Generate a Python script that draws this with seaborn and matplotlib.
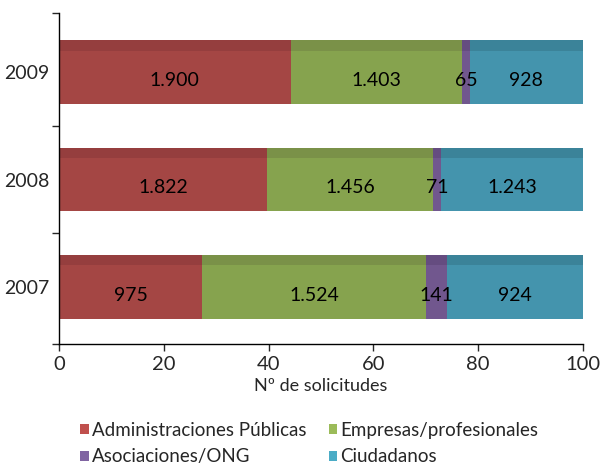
import numpy as np
import pandas as pd
import matplotlib
matplotlib.use('Agg')
import matplotlib.pyplot as plt
from matplotlib.patches import Rectangle, Patch
import seaborn as sns

# Data
years = ['2009', '2008', '2007']
series = ['Administraciones Públicas', 'Empresas/profesionales', 'Asociaciones/ONG', 'Ciudadanos']
admin = [1900, 1822, 975]
empresas = [1403, 1456, 1524]
asociaciones = [65, 71, 141]
ciudadanos = [928, 1243, 924]

bar_colors = ['#A44644', '#86A34E', '#71578E', '#4494AD']
top_colors = ['#953E3E', '#7A9148', '#654C80', '#3B8399']
legend_colors = ['#C0504D', '#9BBB59', '#8064A2', '#4BACC6']

counts = pd.DataFrame({s: v for s, v in zip(series, [admin, empresas, asociaciones, ciudadanos])},
                      index=years)
shares = counts.div(counts.sum(axis=1), axis=0) * 100
cum = shares.cumsum(axis=1)

sns.set_style('white')
plt.rcParams['font.family'] = ['Lato', 'DejaVu Sans']

fig = plt.figure(figsize=(6, 4.68), dpi=100)
ax = fig.add_axes([59 / 600, 1 - 344 / 468, 524 / 600, 331 / 468])

bar_h = 0.59
strip = 0.16
# draw cumulative bars from the right-most series down so each one covers the next
for i in range(len(series) - 1, -1, -1):
    s = series[i]
    df = pd.DataFrame({'year': years, 'value': cum[s].values})
    n_before = len(ax.patches)
    sns.barplot(data=df, x='value', y='year', order=years, orient='h',
                color=bar_colors[i], saturation=1, width=bar_h, ax=ax, zorder=2)
    new = ax.patches[n_before:]
    for p in new:
        p.set_edgecolor('none')
        ax.add_patch(Rectangle((p.get_x(), p.get_y()), p.get_width(), p.get_height() * strip,
                               facecolor=top_colors[i], edgecolor='none', zorder=2))

# value labels centred on each segment
left = cum.shift(axis=1, fill_value=0)
for j, y in enumerate(years):
    for s in series:
        xc = left.loc[y, s] + shares.loc[y, s] / 2
        txt = f'{counts.loc[y, s]:,}'.replace(',', '.')
        ax.text(xc, j + bar_h * strip / 2 + 0.03, txt, ha='center', va='center',
                fontsize=14, color='black', zorder=5)

ax.set_xlim(0, 100)
ax.set_ylim(2.53, -0.55)
ax.set_xticks([0, 20, 40, 60, 80, 100])
ax.set_xlabel('Nº de solicitudes', fontsize=13, labelpad=3)
ax.set_ylabel('')
ax.tick_params(axis='x', labelsize=14.5, length=5, width=1, direction='out', pad=4, bottom=True)
ax.tick_params(axis='y', which='major', labelsize=14, length=0, pad=7)
ax.set_yticks([-0.55, 0.5, 1.5, 2.53], minor=True)
ax.tick_params(axis='y', which='minor', length=5, width=1, direction='out', left=True)
for side in ['top', 'right']:
    ax.spines[side].set_visible(False)
for side in ['left', 'bottom']:
    ax.spines[side].set_color('black')
    ax.spines[side].set_linewidth(1)

# legend rows: Admin | Empresas, then Asociaciones | Ciudadanos (matplotlib fills by column)
leg_order = [0, 2, 1, 3]
handles = [Patch(facecolor=legend_colors[k], edgecolor='none') for k in leg_order]
labels = [series[k] for k in leg_order]
fig.legend(handles, labels, loc='center', bbox_to_anchor=(0.515, 0.052), ncol=2,
           frameon=False, fontsize=13.5, handlelength=0.45, handleheight=0.45,
           handletextpad=0.15, columnspacing=1.2, labelspacing=0.5, borderaxespad=0)

fig.savefig('out.png', dpi=100)
